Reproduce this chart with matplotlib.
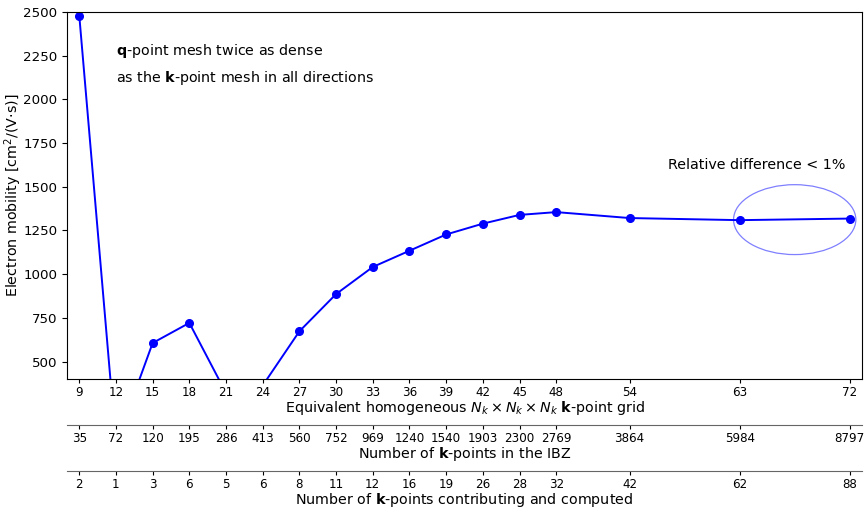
import matplotlib.pyplot as plt
from matplotlib.patches import Ellipse

# k-point grids and mobilities
nk = [9, 12, 15, 18, 21, 24, 27, 30, 33, 36, 39, 42, 45, 48, 54, 63, 72]
mobility = [2480, 28, 606, 721, 320, 363, 673, 886, 1041, 1134, 1227, 1289, 1339, 1355, 1321, 1309, 1318]
n_ibz = [35, 72, 120, 195, 286, 413, 560, 752, 969, 1240, 1540, 1903, 2300, 2769, 3864, 5984, 8797]
n_contrib = [2, 1, 3, 6, 5, 6, 8, 11, 12, 16, 19, 26, 28, 32, 42, 62, 88]

fs = 10.3
tick_fs = 8.6

fig = plt.figure(figsize=(8.65, 5.09), dpi=100)
ax = fig.add_axes([0.0775, 0.2554, 0.919, 0.7210])

ax.plot(nk, mobility, '-o', color='blue', markersize=5.5, linewidth=1.4)
ax.set_xlim(8, 73)
ax.set_ylim(400, 2500)
ax.set_xticks(nk)
ax.set_xticklabels([str(v) for v in nk])
ax.tick_params(axis='x', labelsize=tick_fs, length=3, pad=2)
ax.tick_params(axis='y', labelsize=9.6)
ax.set_ylabel(r'Electron mobility [cm$^2$/(V$\cdot$s)]', fontsize=fs)
ax.yaxis.set_label_coords(-0.054, 0.5)
ax.set_xlabel(r'Equivalent homogeneous $N_k \times N_k \times N_k$ $\mathbf{k}$-point grid',
              fontsize=fs, labelpad=0)

ax.text(12.0, 2252, r'$\mathbf{q}$-point mesh twice as dense', fontsize=fs)
ax.text(12.0, 2100, r'as the $\mathbf{k}$-point mesh in all directions', fontsize=fs)
ax.text(57.1, 1602, 'Relative difference < 1%', fontsize=fs)
ax.add_patch(Ellipse((67.5, 1312), 10, 400, fill=False, edgecolor='blue', alpha=0.5, linewidth=0.9))

# extra x axes below (offsets in points)
for offset, labels, title in [(33.2, n_ibz, r'Number of $\mathbf{k}$-points in the IBZ'),
                              (66.4, n_contrib, r'Number of $\mathbf{k}$-points contributing and computed')]:
    ax2 = ax.twiny()
    ax2.set_xlim(ax.get_xlim())
    ax2.xaxis.set_ticks_position('bottom')
    ax2.xaxis.set_label_position('bottom')
    ax2.spines['bottom'].set_position(('outward', offset))
    for s in ['top', 'left', 'right']:
        ax2.spines[s].set_visible(False)
    ax2.spines['bottom'].set_color('#666666')
    ax2.set_xticks(nk)
    ax2.set_xticklabels([str(v) for v in labels])
    ax2.tick_params(axis='x', labelsize=tick_fs, length=3, pad=2)
    ax2.set_xlabel(title, fontsize=fs, labelpad=0)

fig.savefig('out.png', dpi=100)
